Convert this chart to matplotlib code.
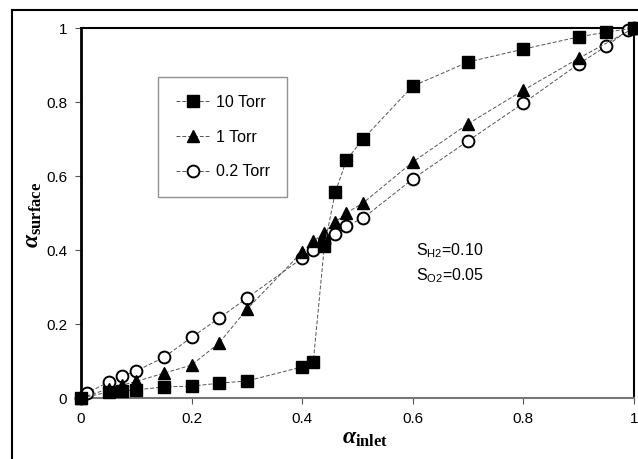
import matplotlib
matplotlib.use("Agg")
import matplotlib.pyplot as plt
from matplotlib.lines import Line2D

# Data
x_10 = [0, 0.05, 0.075, 0.1, 0.15, 0.2, 0.25, 0.3, 0.4, 0.42, 0.44, 0.46, 0.48, 0.51, 0.6, 0.7, 0.8, 0.9, 0.95, 1.0]
y_10 = [0, 0.016, 0.019, 0.022, 0.03, 0.032, 0.04, 0.046, 0.084, 0.097, 0.41, 0.557, 0.643, 0.70, 0.843, 0.908, 0.943, 0.976, 0.989, 1.0]

x_1 = [0, 0.05, 0.075, 0.1, 0.15, 0.2, 0.25, 0.3, 0.4, 0.42, 0.44, 0.46, 0.48, 0.51, 0.6, 0.7, 0.8, 0.9, 1.0]
y_1 = [0, 0.025, 0.035, 0.045, 0.067, 0.089, 0.149, 0.24, 0.395, 0.423, 0.447, 0.476, 0.50, 0.527, 0.638, 0.741, 0.832, 0.918, 1.0]

x_02 = [0, 0.01, 0.05, 0.075, 0.1, 0.15, 0.2, 0.25, 0.3, 0.4, 0.42, 0.44, 0.46, 0.48, 0.51, 0.6, 0.7, 0.8, 0.9, 0.95, 0.99, 1.0]
y_02 = [0, 0.013, 0.043, 0.059, 0.073, 0.11, 0.164, 0.216, 0.27, 0.378, 0.40, 0.42, 0.443, 0.465, 0.486, 0.592, 0.695, 0.797, 0.903, 0.951, 0.995, 1.0]

labels = ["10 Torr", "1 Torr", "0.2 Torr"]
xticks = [0, 0.2, 0.4, 0.6, 0.8, 1]
xticklabels = ["0", "0.2", "0.4", "0.6", "0.8", "1"]
yticks = [0, 0.2, 0.4, 0.6, 0.8, 1]
yticklabels = ["0", "0.2", "0.4", "0.6", "0.8", "1"]

plt.rcParams['font.family'] = ['Liberation Sans', 'DejaVu Sans']
plt.rcParams['mathtext.fontset'] = 'custom'
plt.rcParams['mathtext.rm'] = 'Liberation Sans'
plt.rcParams['mathtext.bf'] = 'Liberation Serif:bold'
plt.rcParams['mathtext.it'] = 'Liberation Serif:italic:bold'

fig = plt.figure(figsize=(6.38, 4.59), dpi=100)
ax = fig.add_axes([81/638, 61/459, 553/638, 370/459])

line_kw = dict(color='#555555', lw=0.7, dashes=(4, 2), clip_on=False)
ax.plot(x_02, y_02, marker='o', ms=8.5, mfc='white', mec='black', mew=1.4, label=labels[2], zorder=3, **line_kw)
ax.plot(x_1, y_1, marker='^', ms=8.5, mfc='black', mec='black', label=labels[1], zorder=4, **line_kw)
ax.plot(x_10, y_10, marker='s', ms=8.5, mfc='black', mec='black', label=labels[0], zorder=5, **line_kw)

ax.set_xlim(0, 1)
ax.set_ylim(0, 1)
ax.set_xticks(xticks)
ax.set_xticklabels(xticklabels, fontsize=11)
ax.set_yticks(yticks)
ax.set_yticklabels(yticklabels, fontsize=11)
ax.tick_params(direction='out', length=4, width=0.8, color='#555555', pad=6)

for s in ['left', 'top', 'right']:
    ax.spines[s].set_color('black')
ax.spines['left'].set_linewidth(2)
ax.spines['top'].set_linewidth(1.5)
ax.spines['right'].set_linewidth(1.5)
ax.spines['bottom'].set_color('#777777')
ax.spines['bottom'].set_linewidth(1.5)

handles, labs = ax.get_legend_handles_labels()
order = [2, 1, 0]
leg = ax.legend([handles[i] for i in order], [labs[i] for i in order],
                loc='upper left', bbox_to_anchor=(77/553, 1 - 49/370), fontsize=11.5,
                frameon=True, fancybox=False, edgecolor='#777777',
                handlelength=2.2, handletextpad=0.3, labelspacing=1.25,
                borderpad=1.1, borderaxespad=0)
leg.get_frame().set_linewidth(1.0)

ax.text(0.605, 0.385, r'S$_{\mathrm{H2}}$=0.10', fontsize=11.5, transform=ax.transData)
ax.text(0.605, 0.318, r'S$_{\mathrm{O2}}$=0.05', fontsize=11.5, transform=ax.transData)

fig.text(365/638, 1 - 438/459, r'$\alpha_{\mathbf{inlet}}$', fontsize=17, ha='center', va='center')
fig.text(33/638, 1 - 215/459, r'$\alpha_{\mathbf{surface}}$', fontsize=17, ha='center', va='center', rotation=90)

fig.add_artist(Line2D([12/638, 12/638], [0, 1 - 10/459], color='black', lw=1.5, transform=fig.transFigure))
fig.add_artist(Line2D([12/638, 1], [1 - 10/459, 1 - 10/459], color='black', lw=1.5, transform=fig.transFigure))

fig.savefig('out.png', dpi=100)
